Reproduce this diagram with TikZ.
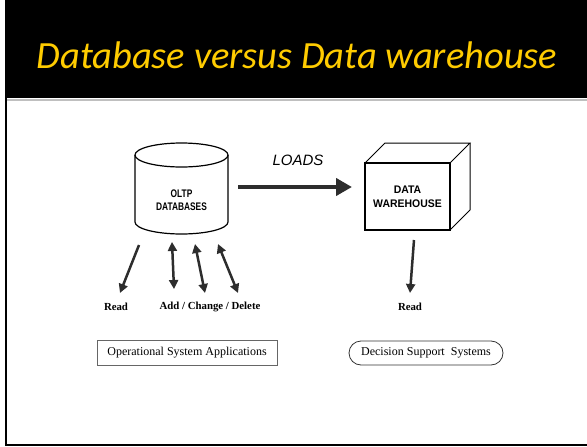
\documentclass[tikz,border=0pt]{standalone}
\usepackage{fontspec}
\setmainfont{Liberation Serif}
\setsansfont{Liberation Sans}
\newfontfamily\titlefont{Carlito}
\newfontfamily\dbfont[FakeStretch=0.76]{Liberation Sans Bold}
\newfontfamily\dwfont[FakeStretch=0.95]{Liberation Sans Bold}
\usetikzlibrary{arrows.meta,positioning}
\definecolor{titleyellow}{RGB}{255,204,0}
\definecolor{arrowgray}{RGB}{45,45,45}
\tikzset{
  fatarrow/.style={-{Triangle[length=16pt,width=17pt]},line width=4.5pt,arrowgray},
  thinarrow/.style={-{Triangle[length=9pt,width=9pt]},line width=2.5pt,arrowgray},
  twoway/.style={{Triangle[length=9pt,width=9pt]}-{Triangle[length=9pt,width=9pt]},line width=2.5pt,arrowgray},
  caps/.style={align=center},
  smalllabel/.style={font=\bfseries\fontsize{10.8}{12}\selectfont},
  appbox/.style={font=\fontsize{12}{14}\selectfont,minimum height=25pt,inner sep=0pt},
}
\begin{document}
\begin{tikzpicture}[x=1pt,y=-1pt]
  \useasboundingbox (0,0) rectangle (587,447);
  % header band and frame
  \fill[black] (5,0) rectangle (587,98);
  \draw[gray!50,line width=2pt] (7,100) -- (587,100);
  \draw[line width=2pt] (6,98) -- (6,445) -- (587,445);
  \node[text=titleyellow,font=\titlefont\itshape\fontsize{38.5}{46}\selectfont] (title) at (297,55) {Database versus Data warehouse};

  % OLTP cylinder
  \draw[line width=1.2pt] (135,155) -- (135,222) arc[start angle=180,end angle=0,x radius=46.5,y radius=12] -- (228,155);
  \draw[line width=1.2pt] (181.5,155) ellipse[x radius=46.5,y radius=12];
  \node[caps,font=\dbfont\fontsize{11}{13.5}\selectfont] (db) at (181.5,200) {OLTP\\DATABASES};

  % warehouse cube
  \draw[line width=1.4pt] (365,163) rectangle (450,230);
  \draw[line width=1pt] (365,163) -- (385,143) -- (470,143) -- (450,163);
  \draw[line width=1pt] (470,143) -- (470,210) -- (450,230);
  \node[caps,font=\dwfont\fontsize{11}{13.5}\selectfont] (dw) at (407.5,197) {DATA\\WAREHOUSE};

  % loads arrow
  \coordinate (loadsfrom) at (238,187);
  \coordinate (loadsto) at (352,187);
  \draw[fatarrow] (loadsfrom) -- (loadsto);
  \node[font=\sffamily\itshape\fontsize{15}{17}\selectfont] (loads) at (298,160) {LOADS};

  % arrows under the database
  \node[smalllabel] (readA) at (116,307) {Read};
  \node[smalllabel] (crud) at (210,307) {Add / Change / Delete};
  \coordinate (readAfrom) at (139,245);
  \coordinate (readAto) at (120,293);
  \draw[thinarrow] (readAfrom) -- (readAto);
  \foreach \a/\b/\c/\d [count=\i] in {172/242/174/289, 195/244/205/293, 218/244/238/293} % two way arrows
  {
    \coordinate (up\i) at (\a,\b);
    \coordinate (dn\i) at (\c,\d);
    \draw[twoway] (up\i) -- (dn\i);
  }

  % arrow under the warehouse
  \node[smalllabel] (readB) at (410,307) {Read};
  \coordinate (readBfrom) at (414,240);
  \coordinate (readBto) at (410,293);
  \draw[thinarrow] (readBfrom) -- (readBto);

  % application boxes
  \node[appbox,draw=gray!80!black,line width=1pt,minimum width=180pt] (osa) at (187,352.5) {Operational System Applications};
  \node[appbox,draw=black!80,line width=0.8pt,rounded corners=12pt,minimum width=154pt,minimum height=24pt] (dss) at (426,353) {Decision Support\ \ Systems};
\end{tikzpicture}
\end{document}
